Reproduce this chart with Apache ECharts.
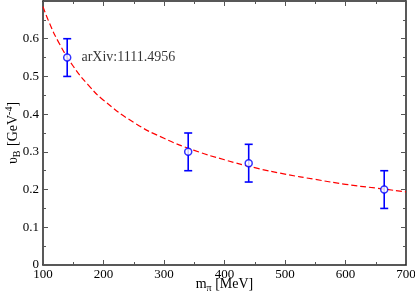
<!DOCTYPE html>
<html>
<head>
<meta charset="utf-8">
<script src="https://cdn.jsdelivr.net/npm/echarts@6/dist/echarts.min.js"></script>
<style>
  html, body { margin: 0; padding: 0; background: #fff; }
  #chart { width: 415px; height: 296px; }
</style>
</head>
<body>
<div id="chart"></div>
<script>
// measured points (m_pi in MeV, upsilon_B in GeV^-4)
var massPts = [140, 340, 440, 664];
var upsPts = [0.55, 0.30, 0.27, 0.20];
var errPts = [0.05, 0.05, 0.05, 0.05];

// dashed fit curve
var fitMass = [100, 110, 125, 150, 175, 200, 250, 300, 350, 400, 450, 500, 550, 600, 650, 700];
var fitUps = [0.685, 0.644, 0.593, 0.527, 0.477, 0.437, 0.378, 0.336, 0.304, 0.279, 0.258, 0.241, 0.227, 0.214, 0.204, 0.194];

var refLabel = 'arXiv:1111.4956';

var serif = '"Liberation Serif", "DejaVu Serif", serif';
var frame = '#222';
var tickCol = '#555';

var chart = echarts.init(document.getElementById('chart'));

function frameAxis(pos, extra) {
    var ax = {
        type: 'value',
        position: pos,
        axisLine: { show: true, onZero: false, lineStyle: { color: frame, width: 1.5 } },
        axisTick: { show: true, inside: true, length: 5, lineStyle: { color: tickCol } },
        minorTick: { show: true, splitNumber: 2, length: 3, lineStyle: { color: tickCol } },
        splitLine: { show: false },
        axisLabel: { show: false }
    };
    for (var k in extra) ax[k] = extra[k];
    return ax;
}

var xMin = 100, xMax = 700, yMin = 0, yMax = 0.7;

var option = {
    animation: false,
    backgroundColor: '#fff',
    grid: { left: 43, right: 9, top: 1, bottom: 31, containLabel: false, outerBoundsMode: 'none' },
    xAxis: [
        frameAxis('bottom', {
            min: xMin, max: xMax, interval: 100,
            axisLabel: { show: true, color: '#000', fontFamily: serif, fontSize: 13, margin: 3 },
            name: 'm{s|π} [MeV]',
            nameLocation: 'middle',
            nameMoveOverlap: false,
            nameGap: 11,
            nameTextStyle: {
                color: '#000', fontFamily: serif, fontSize: 14,
                rich: {
                    s: { fontFamily: serif, fontSize: 10, color: '#000', verticalAlign: 'bottom', padding: [7, 0, 0, 0] }
                }
            }
        }),
        frameAxis('top', { min: xMin, max: xMax, interval: 100 })
    ],
    yAxis: [
        frameAxis('left', {
            min: yMin, max: yMax, interval: 0.1,
            axisLabel: {
                show: true, color: '#000', fontFamily: serif, fontSize: 13, margin: 4,
                formatter: function (v) { return v >= 0.69 ? '' : String(+v.toFixed(1)); }
            },
            name: 'υ{s|B} [GeV{p|-4}]',
            nameLocation: 'middle',
            nameMoveOverlap: false,
            nameRotate: 90,
            nameGap: 21,
            nameTextStyle: {
                color: '#000', fontFamily: serif, fontSize: 14, lineHeight: 18,
                rich: {
                    s: { fontFamily: serif, fontSize: 10, color: '#000', verticalAlign: 'bottom', padding: [7, 1, 0, 0] },
                    p: { fontFamily: serif, fontSize: 10, color: '#000', verticalAlign: 'top', padding: [0, 0, 7, 0] }
                }
            }
        }),
        frameAxis('right', { min: yMin, max: yMax, interval: 0.1 })
    ],
    series: [
        {
            type: 'line',
            data: fitMass.map(function (m, i) { return [m, fitUps[i]]; }),
            smooth: true,
            showSymbol: false,
            lineStyle: { color: '#ff0000', width: 1.2, type: [6, 3] },
            z: 2
        },
        {
            type: 'custom',
            data: massPts.map(function (m, i) { return [m, upsPts[i] - errPts[i], upsPts[i] + errPts[i]]; }),
            renderItem: function (params, api) {
                var lo = api.coord([api.value(0), api.value(1)]);
                var hi = api.coord([api.value(0), api.value(2)]);
                var cap = 4;
                var st = { stroke: '#0000ff', lineWidth: 1.6 };
                return {
                    type: 'group',
                    children: [
                        { type: 'line', shape: { x1: lo[0], y1: lo[1], x2: hi[0], y2: hi[1] }, style: st },
                        { type: 'line', shape: { x1: lo[0] - cap, y1: lo[1], x2: lo[0] + cap, y2: lo[1] }, style: st },
                        { type: 'line', shape: { x1: hi[0] - cap, y1: hi[1], x2: hi[0] + cap, y2: hi[1] }, style: st }
                    ]
                };
            },
            z: 3
        },
        {
            type: 'scatter',
            symbol: 'circle',
            symbolSize: 7,
            itemStyle: { color: '#fff', borderColor: '#0000ff', borderWidth: 1.5 },
            data: massPts.map(function (m, i) {
                var d = { value: [m, upsPts[i]] };
                if (i === 0) {
                    d.label = {
                        show: true, position: 'right', distance: 10,
                        formatter: refLabel,
                        color: '#000', fontFamily: serif, fontSize: 14
                    };
                }
                return d;
            }),
            z: 4
        }
    ]
};

chart.setOption(option);
</script>
</body>
</html>
